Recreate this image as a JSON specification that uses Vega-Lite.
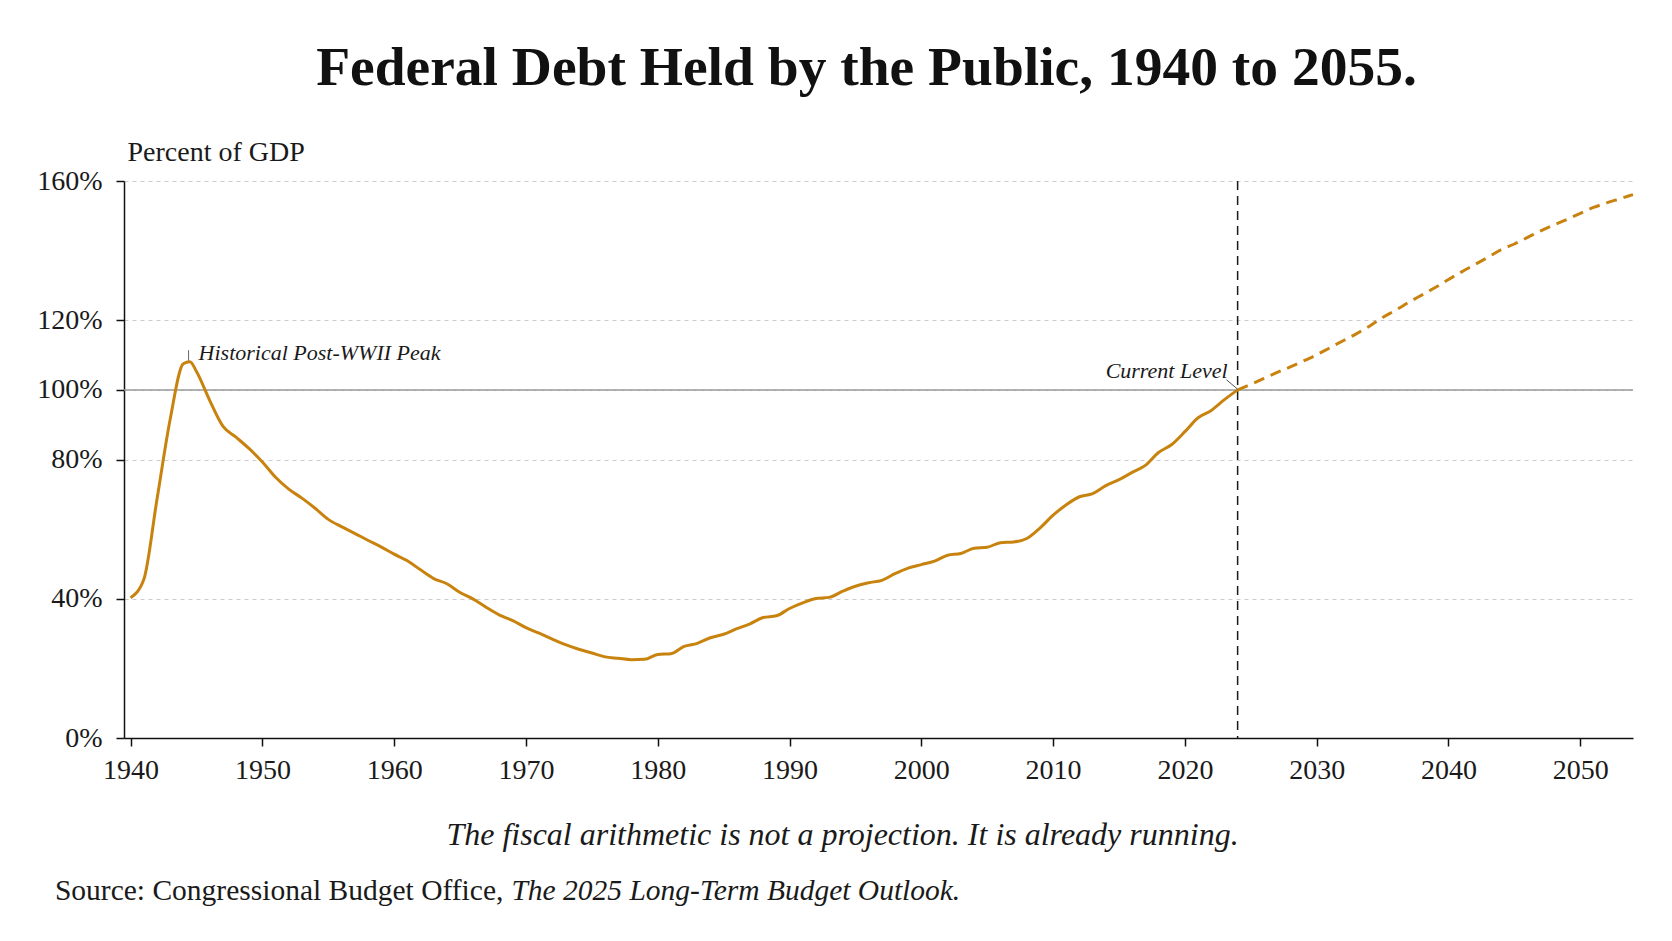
{
  "$schema": "https://vega.github.io/schema/vega-lite/v6.json",
  "width": 1509,
  "height": 557,
  "autosize": {"type": "none"},
  "padding": {"left": 124, "top": 181, "right": 39, "bottom": 203},
  "background": "white",
  "title": {
    "text": "Federal Debt Held by the Public, 1940 to 2055.",
    "font": "Liberation Serif",
    "fontSize": 55.5,
    "fontWeight": "bold",
    "color": "#111111",
    "anchor": "middle",
    "frame": "group",
    "dx": -12,
    "offset": 42
  },
  "config": {
    "view": {"stroke": null},
    "font": "Liberation Serif",
    "axis": {
      "labelFont": "Liberation Serif",
      "titleFont": "Liberation Serif",
      "labelColor": "#1a1a1a",
      "titleColor": "#1a1a1a",
      "domainColor": "#111111",
      "domainWidth": 1.5,
      "tickColor": "#111111",
      "tickWidth": 1.5,
      "tickSize": 8
    }
  },
  "datasets": {
    "debt": [
      {"year": 1940, "debt": 40.3, "series": "historical"},
      {"year": 1941, "debt": 45.5, "series": "historical"},
      {"year": 1942, "debt": 68.5, "series": "historical"},
      {"year": 1943, "debt": 91.5, "series": "historical"},
      {"year": 1944, "debt": 107.5, "series": "historical"},
      {"year": 1944.5, "debt": 108.1, "series": "historical"},
      {"year": 1945, "debt": 105.3, "series": "historical"},
      {"year": 1946, "debt": 97.0, "series": "historical"},
      {"year": 1947, "debt": 89.6, "series": "historical"},
      {"year": 1948, "debt": 86.4, "series": "historical"},
      {"year": 1949, "debt": 83.1, "series": "historical"},
      {"year": 1950, "debt": 79.3, "series": "historical"},
      {"year": 1951, "debt": 74.9, "series": "historical"},
      {"year": 1952, "debt": 71.5, "series": "historical"},
      {"year": 1953, "debt": 68.9, "series": "historical"},
      {"year": 1954, "debt": 66.0, "series": "historical"},
      {"year": 1955, "debt": 62.8, "series": "historical"},
      {"year": 1956, "debt": 60.7, "series": "historical"},
      {"year": 1957, "debt": 58.8, "series": "historical"},
      {"year": 1958, "debt": 56.8, "series": "historical"},
      {"year": 1959, "debt": 54.9, "series": "historical"},
      {"year": 1960, "debt": 52.8, "series": "historical"},
      {"year": 1961, "debt": 50.9, "series": "historical"},
      {"year": 1962, "debt": 48.3, "series": "historical"},
      {"year": 1963, "debt": 45.8, "series": "historical"},
      {"year": 1964, "debt": 44.3, "series": "historical"},
      {"year": 1965, "debt": 41.8, "series": "historical"},
      {"year": 1966, "debt": 39.9, "series": "historical"},
      {"year": 1967, "debt": 37.5, "series": "historical"},
      {"year": 1968, "debt": 35.3, "series": "historical"},
      {"year": 1969, "debt": 33.7, "series": "historical"},
      {"year": 1970, "debt": 31.7, "series": "historical"},
      {"year": 1971, "debt": 30.1, "series": "historical"},
      {"year": 1972, "debt": 28.4, "series": "historical"},
      {"year": 1973, "debt": 26.8, "series": "historical"},
      {"year": 1974, "debt": 25.5, "series": "historical"},
      {"year": 1975, "debt": 24.4, "series": "historical"},
      {"year": 1976, "debt": 23.3, "series": "historical"},
      {"year": 1977, "debt": 22.9, "series": "historical"},
      {"year": 1978, "debt": 22.5, "series": "historical"},
      {"year": 1979, "debt": 22.6, "series": "historical"},
      {"year": 1980, "debt": 24.0, "series": "historical"},
      {"year": 1981, "debt": 24.2, "series": "historical"},
      {"year": 1982, "debt": 26.3, "series": "historical"},
      {"year": 1983, "debt": 27.2, "series": "historical"},
      {"year": 1984, "debt": 28.8, "series": "historical"},
      {"year": 1985, "debt": 29.8, "series": "historical"},
      {"year": 1986, "debt": 31.4, "series": "historical"},
      {"year": 1987, "debt": 32.8, "series": "historical"},
      {"year": 1988, "debt": 34.6, "series": "historical"},
      {"year": 1989, "debt": 35.1, "series": "historical"},
      {"year": 1990, "debt": 37.2, "series": "historical"},
      {"year": 1991, "debt": 38.8, "series": "historical"},
      {"year": 1992, "debt": 40.1, "series": "historical"},
      {"year": 1993, "debt": 40.4, "series": "historical"},
      {"year": 1994, "debt": 42.1, "series": "historical"},
      {"year": 1995, "debt": 43.6, "series": "historical"},
      {"year": 1996, "debt": 44.6, "series": "historical"},
      {"year": 1997, "debt": 45.3, "series": "historical"},
      {"year": 1998, "debt": 47.2, "series": "historical"},
      {"year": 1999, "debt": 48.8, "series": "historical"},
      {"year": 2000, "debt": 49.8, "series": "historical"},
      {"year": 2001, "debt": 50.8, "series": "historical"},
      {"year": 2002, "debt": 52.5, "series": "historical"},
      {"year": 2003, "debt": 53.0, "series": "historical"},
      {"year": 2004, "debt": 54.5, "series": "historical"},
      {"year": 2005, "debt": 54.8, "series": "historical"},
      {"year": 2006, "debt": 56.1, "series": "historical"},
      {"year": 2007, "debt": 56.3, "series": "historical"},
      {"year": 2008, "debt": 57.3, "series": "historical"},
      {"year": 2009, "debt": 60.3, "series": "historical"},
      {"year": 2010, "debt": 64.0, "series": "historical"},
      {"year": 2011, "debt": 67.0, "series": "historical"},
      {"year": 2012, "debt": 69.3, "series": "historical"},
      {"year": 2013, "debt": 70.2, "series": "historical"},
      {"year": 2014, "debt": 72.5, "series": "historical"},
      {"year": 2015, "debt": 74.2, "series": "historical"},
      {"year": 2016, "debt": 76.3, "series": "historical"},
      {"year": 2017, "debt": 78.3, "series": "historical"},
      {"year": 2018, "debt": 82.0, "series": "historical"},
      {"year": 2019, "debt": 84.3, "series": "historical"},
      {"year": 2020, "debt": 88.0, "series": "historical"},
      {"year": 2021, "debt": 92.0, "series": "historical"},
      {"year": 2022, "debt": 94.1, "series": "historical"},
      {"year": 2023, "debt": 97.2, "series": "historical"},
      {"year": 2024, "debt": 100.0, "series": "historical"},
      {"year": 2024, "debt": 100.0, "series": "projected"},
      {"year": 2025, "debt": 101.6, "series": "projected"},
      {"year": 2026, "debt": 103.3, "series": "projected"},
      {"year": 2027, "debt": 105.0, "series": "projected"},
      {"year": 2028, "debt": 106.6, "series": "projected"},
      {"year": 2029, "debt": 108.3, "series": "projected"},
      {"year": 2030, "debt": 110.1, "series": "projected"},
      {"year": 2031, "debt": 112.1, "series": "projected"},
      {"year": 2032, "debt": 114.1, "series": "projected"},
      {"year": 2033, "debt": 116.1, "series": "projected"},
      {"year": 2034, "debt": 118.3, "series": "projected"},
      {"year": 2035, "debt": 120.8, "series": "projected"},
      {"year": 2036, "debt": 122.9, "series": "projected"},
      {"year": 2037, "debt": 125.2, "series": "projected"},
      {"year": 2038, "debt": 127.3, "series": "projected"},
      {"year": 2039, "debt": 129.4, "series": "projected"},
      {"year": 2040, "debt": 131.7, "series": "projected"},
      {"year": 2041, "debt": 133.9, "series": "projected"},
      {"year": 2042, "debt": 136.0, "series": "projected"},
      {"year": 2043, "debt": 138.1, "series": "projected"},
      {"year": 2044, "debt": 140.3, "series": "projected"},
      {"year": 2045, "debt": 141.9, "series": "projected"},
      {"year": 2046, "debt": 143.8, "series": "projected"},
      {"year": 2047, "debt": 145.7, "series": "projected"},
      {"year": 2048, "debt": 147.4, "series": "projected"},
      {"year": 2049, "debt": 149.0, "series": "projected"},
      {"year": 2050, "debt": 150.7, "series": "projected"},
      {"year": 2051, "debt": 152.4, "series": "projected"},
      {"year": 2052, "debt": 153.7, "series": "projected"},
      {"year": 2053, "debt": 154.9, "series": "projected"},
      {"year": 2054, "debt": 156.1, "series": "projected"}
    ]
  },
  "data": {"name": "debt"},
  "encoding": {
    "x": {
      "field": "year",
      "type": "quantitative",
      "scale": {"domain": [1939.5, 2054], "nice": false, "zero": false},
      "axis": {
        "values": [1940, 1950, 1960, 1970, 1980, 1990, 2000, 2010, 2020, 2030, 2040, 2050],
        "format": "d",
        "grid": false,
        "labelFontSize": 28,
        "labelPadding": 10,
        "title": "The fiscal arithmetic is not a projection. It is already running.",
        "titleFontSize": 32,
        "titleFontStyle": "italic",
        "titleFontWeight": "normal",
        "titleX": 718,
        "titleY": 106,
        "titleAlign": "center",
        "titleAnchor": null,
        "titleBaseline": "alphabetic"
      }
    },
    "y": {
      "field": "debt",
      "type": "quantitative",
      "scale": {"domain": [0, 160], "nice": false},
      "axis": {
        "values": [0, 40, 80, 100, 120, 160],
        "labelExpr": "datum.value + '%'",
        "labelFontSize": 28,
        "labelPadding": 14,
        "grid": true,
        "gridColor": "#cccccc",
        "gridDash": [4, 4],
        "gridWidth": 1,
        "title": "Percent of GDP",
        "titleFontSize": 28,
        "titleFontWeight": "normal",
        "titleAngle": 0,
        "titleAlign": "left",
        "titleBaseline": "alphabetic",
        "titleX": 3,
        "titleY": -21
      }
    }
  },
  "layer": [
    {
      "transform": [{"filter": "datum.year === 1940"}],
      "mark": {"type": "rule", "color": "#9a9a9a", "strokeWidth": 1.5},
      "encoding": {"y": {"datum": 100}, "x": null}
    },
    {
      "transform": [{"filter": "datum.year === 1940"}],
      "mark": {"type": "rule", "color": "#1a1a1a", "strokeWidth": 1.5, "strokeDash": [9, 6]},
      "encoding": {"x": {"datum": 2024}, "y": null}
    },
    {
      "transform": [{"filter": "datum.series === 'historical'"}],
      "mark": {"type": "line", "color": "#c8830f", "strokeWidth": 3, "interpolate": "monotone"}
    },
    {
      "transform": [{"filter": "datum.series === 'projected'"}],
      "mark": {"type": "line", "color": "#c8830f", "strokeWidth": 3, "strokeDash": [11, 7], "interpolate": "monotone"}
    },
    {
      "transform": [{"filter": "datum.year === 1940"}],
      "mark": {"type": "rule", "color": "#666666", "strokeWidth": 1},
      "encoding": {"x": {"datum": 1944.4}, "y": {"datum": 108.4}, "y2": {"datum": 111.4}}
    },
    {
      "transform": [{"filter": "datum.year === 1940"}],
      "mark": {"type": "text", "text": "Historical Post-WWII Peak", "font": "Liberation Serif", "fontSize": 22, "fontStyle": "italic", "color": "#1a1a1a", "align": "left", "baseline": "alphabetic", "dx": 10, "dy": -2},
      "encoding": {"x": {"datum": 1944.4}, "y": {"datum": 108.1}}
    },
    {
      "transform": [{"filter": "datum.year === 1940"}],
      "mark": {"type": "rule", "color": "#555555", "strokeWidth": 1},
      "encoding": {"x": {"datum": 2023.15}, "y": {"datum": 102.9}, "x2": {"datum": 2024}, "y2": {"datum": 100.2}}
    },
    {
      "transform": [{"filter": "datum.year === 1940"}],
      "mark": {"type": "text", "text": "Current Level", "font": "Liberation Serif", "fontSize": 22, "fontStyle": "italic", "color": "#1a1a1a", "align": "right", "baseline": "alphabetic", "dx": -10, "dy": -12},
      "encoding": {"x": {"datum": 2024}, "y": {"datum": 100}}
    },
    {
      "transform": [{"filter": "datum.year === 1940"}],
      "mark": {"type": "text", "text": "Source: Congressional Budget Office,", "font": "Liberation Serif", "fontSize": 29.5, "color": "#1a1a1a", "align": "left", "baseline": "alphabetic"},
      "encoding": {"x": {"datum": 1934.26}, "y": {"datum": -46.5}}
    },
    {
      "transform": [{"filter": "datum.year === 1940"}],
      "mark": {"type": "text", "text": "The 2025 Long-Term Budget Outlook.", "font": "Liberation Serif", "fontSize": 29.5, "fontStyle": "italic", "color": "#1a1a1a", "align": "left", "baseline": "alphabetic"},
      "encoding": {"x": {"datum": 1968.9}, "y": {"datum": -46.5}}
    }
  ]
}
